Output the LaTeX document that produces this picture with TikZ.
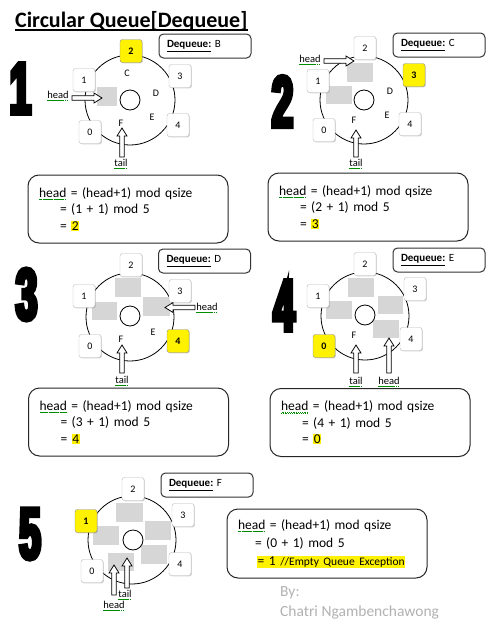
\documentclass[tikz,border=0pt]{standalone}
\usepackage{fontspec}
\setmainfont{Carlito}
\newfontface\numfont{Liberation Sans Bold}[FakeBold=6, FakeStretch=0.52]
\usepackage{xcolor}
\usetikzlibrary{shadows}
\newcommand\spellw[1]{\setbox0\hbox{#1}\rlap{\raisebox{-2.8pt}{\textcolor{green!55!black}{\hbox to \wd0{\xleaders\hbox to 1.8pt{\rule{0.6pt}{0.6pt}\raisebox{0.6pt}{\rule{0.6pt}{0.6pt}}\hss}\hfill}}}}#1}
\newcommand\hl[1]{{\setlength{\fboxsep}{0.7pt}\colorbox{yellow}{#1}}}
\newcommand\barrow[3]{\draw[barrowstyle, shift={(#1)}, rotate=#2] (0,0) -- (-8,-5) -- (-8,-2.3) -- (-#3,-2.3) -- (-#3,2.3) -- (-8,2.3) -- (-8,5) -- cycle;}
\tikzset{
  slot/.style={draw=black!28, fill=white, rounded corners=2.5pt, minimum width=22, minimum height=23, inner sep=0,
    font=\fontsize{10}{12}\selectfont, drop shadow={shadow xshift=0.9pt, shadow yshift=-0.9pt, opacity=0.35}},
  hot/.style={slot, fill=yellow, draw=black!45, font=\bfseries\fontsize{10}{12}\selectfont},
  ring/.style={draw, line width=0.8},
  cell/.style={fill=black!16},
  hub/.style={circle, draw, fill=white, minimum size=20, inner sep=0, line width=0.8},
  dq/.style={draw=black!80, line width=1, rounded corners=4.5pt, minimum height=24, text width=76, inner xsep=8, align=left, font=\fontsize{11}{13}\selectfont},
  calcbox/.style={draw=black!85, line width=1, rounded corners=11pt, text width=178, inner xsep=11, minimum height=68, align=left, font=\fontsize{13.5}{16.5}\selectfont},
  lbl/.style={font=\fontsize{10}{12}\selectfont, inner sep=0},
  tag/.style={font=\fontsize{10.5}{12}\selectfont, inner sep=0},
  barrowstyle/.style={draw, fill=white, line width=0.75},
  bignum/.style={font=\numfont\fontsize{73}{73}\selectfont, inner sep=0},
}
\begin{document}
\begin{tikzpicture}[x=1pt, y=-1pt]
\useasboundingbox[fill=white] (0,0) rectangle (493,624);
% title
\node[anchor=base west, inner sep=0, font=\bfseries\fontsize{22}{24}\selectfont] (title) at (15,27) {Circular Queue[Dequeue]};
\draw[line width=1.8] ([yshift=-2.8pt]title.base west) -- ([yshift=-2.8pt]title.base east);

% ---------- Panel 1 ----------
\node[dq] (dq1) at (205,46) {\textbf{\underline{Dequeue:}} B};
\node[bignum] (n1) at (20.5,88.5) {1};
\draw[ring] (130,100) circle[radius=45];
\fill[cell] (97,87) rectangle (117,106);
\node[hub] (hub1) at (130,100) {};
\node[hot] (a2) at (131,51) {2};
\node[slot] (a1) at (84,80) {1};
\node[slot] (a3) at (180,76) {3};
\node[slot] (a0) at (90,132) {0};
\node[slot] (a4) at (178,125) {4};
\node[lbl] (aC) at (127,73) {C};
\node[lbl] (aD) at (156,93) {D};
\node[lbl] (aE) at (152,117) {E};
\node[lbl] (aF) at (121,123) {F};
\coordinate (ah) at (102,98); \barrow{ah}{0}{30}
\node[tag] (ahl) at (58,96) {\spellw{head}};
\coordinate (at) at (122,128); \barrow{at}{90}{29}
\node[tag] (atl) at (121,164) {\spellw{tail}};
\node[calcbox] (c1) at (128,209) {\spellw{head} = (head+1) mod qsize\\\hspace*{21pt}= (1 + 1) mod 5\\\hspace*{21pt}= \hl{2}};

% ---------- Panel 2 ----------
\node[dq] (dq2) at (439,45) {\textbf{\underline{Dequeue:}} C};
\node[bignum] (n2) at (282.5,101.5) {2};
\draw[ring] (364,100) circle[radius=44];
\fill[cell] (347,63) rectangle (373,82);
\fill[cell] (326,86) rectangle (352,104);
\node[hub] (hub2) at (364,100) {};
\node[slot] (b2) at (365,48) {2};
\node[slot] (b1) at (318,81) {1};
\node[hot] (b3) at (414,75) {3};
\node[slot] (b0) at (324,130) {0};
\node[slot] (b4) at (410,124) {4};
\node[lbl] (bD) at (390,91) {D};
\node[lbl] (bE) at (387,115) {E};
\node[lbl] (bF) at (354,120) {F};
\coordinate (bh) at (354,61); \barrow{bh}{0}{30}
\node[tag] (bhl) at (310,60) {\spellw{head}};
\coordinate (bt) at (356,130); \barrow{bt}{90}{27}
\node[tag] (btl) at (356,164) {\spellw{tail}};
\node[calcbox] (c2) at (368,207) {\spellw{head} = (head+1) mod qsize\\\hspace*{21pt}= (2 + 1) mod 5\\\hspace*{21pt}= \hl{3}};

% ---------- Panel 3 ----------
\node[dq] (dq3) at (204.5,261) {\textbf{\underline{Dequeue:}} D};
\node[bignum] (n3) at (26.5,294.5) {3};
\draw[ring] (130,317) circle[radius=44];
\fill[cell] (115,278) rectangle (141,297);
\fill[cell] (92,302) rectangle (117,320);
\fill[cell] (143,297) rectangle (170,316);
\node[hub] (hub3) at (130,316) {};
\node[slot] (c2s) at (131,265) {2};
\node[slot] (c1s) at (84,296) {1};
\node[slot] (c3s) at (180,291) {3};
\node[slot] (c0s) at (90,346) {0};
\node[hot] (c4s) at (178,341) {4};
\node[lbl] (cE) at (153,332) {E};
\node[lbl] (cF) at (121,339) {F};
\coordinate (ch) at (165,307.5); \barrow{ch}{180}{30}
\node[tag] (chl) at (207,308) {\spellw{head}};
\coordinate (ct) at (122,345); \barrow{ct}{90}{28}
\node[tag] (ctl) at (122,381) {\spellw{tail}};
\node[calcbox] (c3) at (128.5,422) {\spellw{head} = (head+1) mod qsize\\\hspace*{21pt}= (3 + 1) mod 5\\\hspace*{21pt}= \hl{4}};

% ---------- Panel 4 ----------
\node[dq] (dq4) at (439,260) {\textbf{\underline{Dequeue:}} E};
\node[bignum] (n4) at (284,305.5) {4};
\draw[ring] (365,316) circle[radius=44];
\fill[cell] (348,278) rectangle (374,297);
\fill[cell] (326,301) rectangle (352,319);
\fill[cell] (378,296) rectangle (403,314);
\fill[cell] (373,320) rectangle (399,338);
\node[hub] (hub4) at (365,315) {};
\node[slot] (d2) at (365,264) {2};
\node[slot] (d1) at (318,296) {1};
\node[slot] (d3) at (415,289) {3};
\node[hot] (d0) at (324,346) {0};
\node[slot] (d4) at (411,339) {4};
\node[lbl] (dF) at (354,335) {F};
\coordinate (dt) at (356,345); \barrow{dt}{90}{28}
\node[tag] (dtl) at (356,382) {\spellw{tail}};
\coordinate (dh) at (389,338); \barrow{dh}{90}{35}
\node[tag] (dhl) at (389,382) {\spellw{head}};
\node[calcbox] (c4) at (370,422.5) {\spellw{head} = (head+1) mod qsize\\\hspace*{21pt}= (4 + 1) mod 5\\\hspace*{21pt}= \hl{0}};

% ---------- Panel 5 ----------
\node[dq] (dq5) at (207,485) {\textbf{\underline{Dequeue:}} F};
\node[bignum] (n5) at (30,534) {5};
\draw[ring] (132,540) circle[radius=44];
\fill[cell] (116,503) rectangle (143,522);
\fill[cell] (93,526) rectangle (119,545);
\fill[cell] (145,521) rectangle (171,540);
\fill[cell] (141,545) rectangle (167,564);
\fill[cell] (108,553) rectangle (134,571);
\node[hub] (hub5) at (133,540) {};
\node[slot] (e2) at (133,489) {2};
\node[hot] (e1) at (86,521) {1};
\node[slot] (e3) at (183,515) {3};
\node[slot] (e0) at (92,571) {0};
\node[slot] (e4) at (180,564) {4};
\coordinate (eh) at (114,565); \barrow{eh}{90}{30}
\coordinate (et) at (127,558); \barrow{et}{90}{30}
\node[tag] (etl) at (125,595) {\spellw{tail}};
\node[tag] (ehl) at (114,606) {\spellw{head}};
\node[calcbox, minimum height=69, font=\fontsize{13.5}{18}\selectfont] (c5) at (327,543.5) {\spellw{head} = (head+1) mod qsize\\\hspace*{17pt}= (0 + 1) mod 5\\\hspace*{19pt}\hl{= 1 {\fontsize{11.5}{13}\selectfont //Empty Queue Exception}}};
\node[anchor=west, inner sep=0, text=black!30, font=\fontsize{15.5}{18}\selectfont] (by) at (280,593) {By:};
\node[anchor=west, inner sep=0, text=black!30, font=\fontsize{15.5}{18}\selectfont] (author) at (280,612) {Chatri Ngambenchawong};
\end{tikzpicture}
\end{document}
